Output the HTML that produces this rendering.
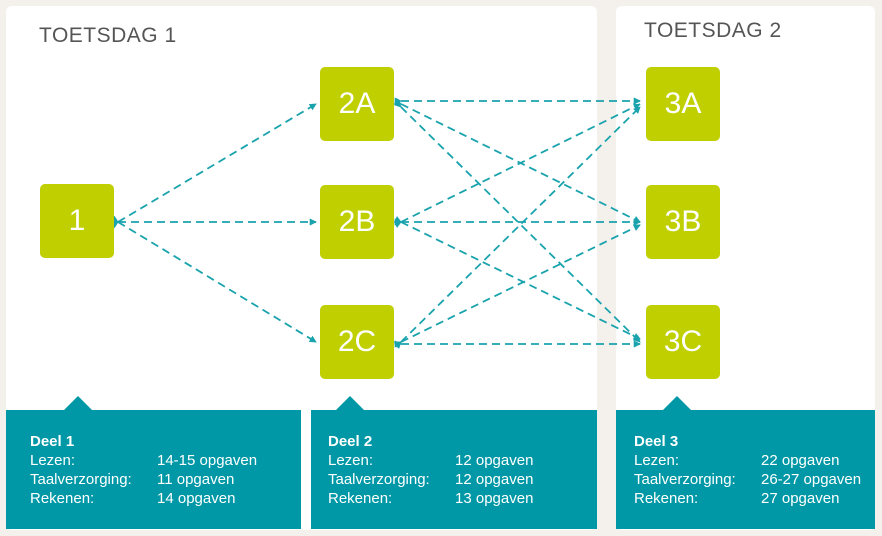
<!DOCTYPE html>
<html><head><meta charset="utf-8"><style>
body{margin:0;width:882px;height:536px;background:#f4f1ec;position:relative;overflow:hidden;font-family:"Liberation Sans",sans-serif}
.p{position:absolute;background:#fff;border-radius:6px}
.t{position:absolute;font-size:21px;color:#555;letter-spacing:0.5px}
.b{position:absolute;width:74px;height:74px;background:#bfcf00;border-radius:5px;color:#fff;font-size:30px;line-height:74px;text-align:center}
.tb{position:absolute;top:410px;height:119px;background:#0098a6;color:#fff;font-size:15px;line-height:19px}
.tb .tri{position:absolute;top:-14px;width:0;height:0;border-left:14px solid transparent;border-right:14px solid transparent;border-bottom:14px solid #0098a6}
.tb .tx{position:absolute;top:22px}
.tb .v{position:absolute;top:22px}
</style></head><body>
<div class="p" style="left:6px;top:6px;width:591px;height:524px"></div>
<div class="p" style="left:616px;top:6px;width:259px;height:524px"></div>
<div class="t" style="left:39px;top:24px">TOETSDAG 1</div>
<div class="t" style="left:644px;top:19px">TOETSDAG 2</div>
<svg style="position:absolute;left:0;top:0" width="882" height="536">
<defs><marker id="a" markerWidth="4" markerHeight="4" refX="3.5" refY="2" orient="auto"><path d="M0,0L4,2L0,4z" fill="#1aa3ad"/></marker></defs>
<g stroke="#1aa3ad" stroke-width="1.8" stroke-dasharray="8,5" fill="none" marker-end="url(#a)" marker-start="url(#a)">
<line x1="118" y1="222" x2="316" y2="104"/>
<line x1="118" y1="222" x2="316" y2="222"/>
<line x1="118" y1="222" x2="316" y2="342"/>
<line x1="401" y1="101" x2="640" y2="101"/>
<line x1="401" y1="104" x2="640" y2="222"/>
<line x1="401" y1="107" x2="640" y2="342"/>
<line x1="401" y1="222" x2="640" y2="104"/>
<line x1="401" y1="222" x2="640" y2="222"/>
<line x1="401" y1="222" x2="640" y2="339"/>
<line x1="401" y1="342" x2="640" y2="107"/>
<line x1="401" y1="342" x2="640" y2="225"/>
<line x1="401" y1="344" x2="640" y2="344"/>
</g></svg>
<div class="b" style="left:40px;top:184px">1</div>
<div class="b" style="left:320px;top:67px">2A</div>
<div class="b" style="left:320px;top:185px">2B</div>
<div class="b" style="left:320px;top:305px">2C</div>
<div class="b" style="left:646px;top:67px">3A</div>
<div class="b" style="left:646px;top:185px">3B</div>
<div class="b" style="left:646px;top:305px">3C</div>
<div class="tb" style="left:6px;width:295px"><div class="tri" style="left:58px"></div>
<div class="tx" style="left:24px"><b>Deel 1</b><br>Lezen:<br>Taalverzorging:<br>Rekenen:</div>
<div class="v" style="left:151px"><br>14-15 opgaven<br>11 opgaven<br>14 opgaven</div></div>
<div class="tb" style="left:311px;width:286px"><div class="tri" style="left:25px"></div>
<div class="tx" style="left:17px"><b>Deel 2</b><br>Lezen:<br>Taalverzorging:<br>Rekenen:</div>
<div class="v" style="left:144px"><br>12 opgaven<br>12 opgaven<br>13 opgaven</div></div>
<div class="tb" style="left:616px;width:259px"><div class="tri" style="left:47px"></div>
<div class="tx" style="left:18px"><b>Deel 3</b><br>Lezen:<br>Taalverzorging:<br>Rekenen:</div>
<div class="v" style="left:145px"><br>22 opgaven<br>26-27 opgaven<br>27 opgaven</div></div>
</body></html>
